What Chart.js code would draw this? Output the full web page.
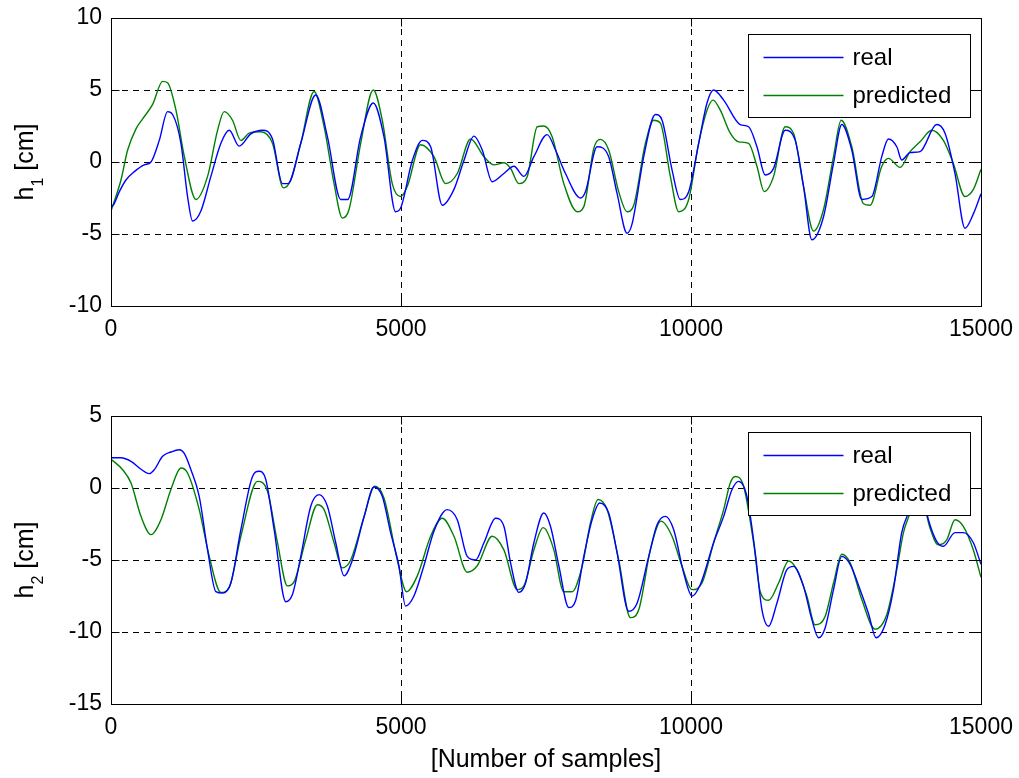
<!DOCTYPE html>
<html>
<head>
<meta charset="utf-8">
<script src="https://cdn.jsdelivr.net/npm/chart.js@4"></script>
<style>
  html, body { margin: 0; padding: 0; background: #fff; }
  #wrap { position: relative; width: 1019px; height: 778px; overflow: hidden; }
  canvas { position: absolute; left: 0; }
  #h1Chart { top: 0; }
  #h2Chart { top: 398px; }
</style>
</head>
<body>
<div id="wrap">
  <canvas id="h1Chart" width="1019" height="380"></canvas>
  <canvas id="h2Chart" width="1019" height="380"></canvas>
</div>
<script>
// level h1: measured and model output
const h1RealX = [0, 40, 144, 258, 402, 574, 689, 832, 976, 1062, 1206, 1320, 1406, 1550, 1722, 1895, 2038, 2210, 2411, 2612,
  2784, 2956, 3050, 3272, 3530, 3731, 3961, 4080, 4305, 4522, 4706, 4907, 4993, 5195, 5367, 5511, 5712, 5913, 6085, 6257,
  6401, 6573, 6774, 6947, 7119, 7291, 7520, 7664, 7836, 8094, 8180, 8381, 8581, 8726, 8898, 8984, 9185, 9386, 9501, 9673,
  9816, 9960, 10132, 10276, 10390, 10563, 10850, 10993, 11137, 11280, 11424, 11624, 11797, 11940, 12084, 12285, 12457, 12600, 12772, 12945,
  13117, 13289, 13404, 13548, 13633, 13777, 13949, 14236, 14380, 14552, 14724, 14868, 15000];
const h1RealY = [-3.1, -3.0, -2.06, -1.25, -0.67, -0.2, 0, 1.5, 3.5, 3.3, 1.3, -2.4, -4.1, -3.4, -1.0, 1.3, 2.2, 1.1, 1.95, 2.2,
  1.6, -1.5, -1.5, 1.3, 4.65, 1.76, -2.6, -2.6, 1.76, 4.1, 1.76, -3.45, -3.2, 0.1, 1.5, 1.06, -3.0, -1.9, 0.1, 1.8,
  0.83, -1.37, -0.8, -0.3, -1.0, 0.37, 1.9, 0.83, -0.8, -2.5, -2.06, 1.06, 0.37, -2.2, -4.95, -4.3, 0.37, 3.3, 2.9, -0.55,
  -2.6, -2.06, 1.3, 4.1, 5.0, 4.3, 2.6, 2.45, 1.06, -0.9, -0.44, 2.2, 1.5, -1.7, -5.4, -3.8, -0.1, 2.6, 0.83, -2.6,
  -2.4, 0.37, 1.6, 1.06, 0.14, 0.65, 0.72, 2.6, 2.0, -0.8, -4.6, -3.6, -2.2];

const h1PredX = [0, 172, 287, 431, 546, 718, 890, 976, 1120, 1263, 1464, 1665, 1837, 1952, 2095, 2239, 2382, 2583, 2784, 2973,
  3100, 3272, 3502, 3674, 3846, 3990, 4104, 4305, 4522, 4677, 4849, 4993, 5108, 5338, 5568, 5769, 5970, 6200, 6430, 6602,
  6774, 6889, 7033, 7177, 7349, 7462, 7606, 7807, 8037, 8152, 8324, 8438, 8581, 8754, 8898, 9013, 9214, 9357, 9472, 9644,
  9788, 9960, 10132, 10276, 10379, 10505, 10677, 10821, 10993, 11137, 11263, 11424, 11624, 11768, 11940, 12113, 12285, 12457, 12589, 12772,
  12973, 13088, 13289, 13404, 13605, 13777, 13949, 14150, 14351, 14523, 14724, 14868, 15000];
const h1PredY = [-3.4, -1.25, 0.83, 2.3, 3.0, 4.0, 5.6, 5.5, 3.6, 0.4, -2.6, -1.0, 2.2, 3.5, 2.9, 1.5, 2.0, 2.1, 1.3, -1.8,
  -1.25, 1.3, 4.9, 2.45, -1.5, -3.9, -3.3, 1.3, 5.0, 2.9, -1.5, -2.4, -1.7, 1.2, 0.37, -1.5, -0.8, 1.6, 0.37, -0.2,
  -0.05, -0.44, -1.5, -1.0, 2.45, 2.5, 1.76, -1.5, -3.45, -3.1, 0.95, 1.57, 0.83, -2.06, -3.45, -3.0, 1.3, 2.9, 2.7, -1.0,
  -3.45, -2.6, 1.3, 3.6, 4.3, 3.6, 2.0, 1.4, 1.3, -0.3, -2.06, -1.0, 2.45, 2.0, -1.7, -4.8, -3.3, 0.37, 2.9, 1.06,
  -2.9, -3.0, -0.3, 0.25, -0.37, 0.72, 1.4, 2.2, 1.5, -0.1, -2.4, -1.9, -0.5];

// level h2: measured and model output
const h2RealX = [0, 172, 345, 517, 660, 746, 890, 1033, 1177, 1263, 1378, 1521, 1665, 1808, 1923, 2066, 2239, 2440, 2554, 2669,
  2813, 3014, 3128, 3272, 3444, 3588, 3731, 3875, 4018, 4162, 4363, 4535, 4677, 4821, 4964, 5079, 5223, 5395, 5568, 5797,
  5970, 6142, 6286, 6430, 6631, 6774, 6889, 7033, 7148, 7291, 7462, 7577, 7721, 7893, 8008, 8152, 8295, 8427, 8581, 8726,
  8926, 9070, 9271, 9415, 9558, 9702, 9874, 10017, 10161, 10390, 10563, 10706, 10821, 10964, 11108, 11223, 11338, 11481, 11653, 11768,
  11940, 12084, 12199, 12314, 12457, 12600, 12744, 12916, 13059, 13191, 13346, 13490, 13633, 13748, 13900, 14000, 14093, 14236, 14351, 14552,
  14695, 14868, 15000];
const h2RealY = [2.1, 2.1, 1.85, 1.3, 1.0, 1.27, 2.2, 2.5, 2.66, 2.4, 1.27, -0.58, -4.3, -7.2, -7.3, -6.6, -2.9, 0.8, 1.16, 0.58,
  -2.9, -7.9, -7.4, -4.75, -1.27, -0.46, -1.27, -3.8, -6.1, -5.0, -2.0, 0.07, -0.58, -3.1, -5.4, -8.2, -7.5, -5.4, -3.0, -1.5,
  -2.2, -4.75, -5.0, -3.8, -2.1, -2.66, -5.2, -7.25, -6.6, -3.8, -1.74, -2.66, -5.4, -8.3, -7.85, -4.75, -2.2, -1.04, -1.74, -4.5,
  -8.56, -8.0, -4.75, -2.55, -1.97, -2.9, -5.9, -7.5, -6.7, -3.8, -1.97, -0.12, 0.46, -0.58, -4.5, -8.45, -9.6, -8.0, -5.67, -5.44,
  -6.83, -9.14, -10.4, -9.7, -7.06, -4.75, -5.3, -7.06, -8.7, -10.4, -9.5, -7.06, -3.1, -1.74, -0.3, -0.6, -2.2, -3.7, -4.05, -3.1,
  -3.1, -3.8, -5.3];

const h2PredX = [0, 201, 345, 517, 689, 861, 1033, 1206, 1320, 1521, 1694, 1895, 2038, 2239, 2526, 2698, 2870, 3042, 3157, 3358,
  3559, 3674, 3846, 3990, 4133, 4363, 4546, 4706, 4936, 5097, 5281, 5511, 5712, 5913, 6142, 6315, 6573, 6774, 7004, 7119,
  7291, 7450, 7500, 7635, 7807, 7950, 8123, 8266, 8398, 8553, 8754, 8955, 9099, 9300, 9483, 9673, 9845, 10017, 10190, 10390,
  10563, 10677, 10763, 10907, 11079, 11194, 11338, 11510, 11682, 11825, 11997, 12141, 12314, 12457, 12600, 12744, 12945, 13174, 13375, 13548,
  13663, 13777, 13900, 14000, 14121, 14265, 14409, 14552, 14695, 14868, 15000];
const h2PredY = [2.0, 1.27, 0.35, -1.97, -3.24, -2.2, -0.1, 1.39, 1.04, -1.5, -4.75, -7.25, -6.9, -3.35, 0.46, -0.23, -3.8, -6.8, -6.5, -3.6,
  -1.16, -1.5, -3.8, -5.55, -5.0, -2.0, 0.12, -0.7, -5.0, -7.2, -6.1, -3.35, -2.1, -3.35, -5.85, -5.4, -3.35, -4.3, -7.06, -6.8,
  -4.3, -2.75, -2.9, -4.3, -7.2, -7.2, -5.44, -2.43, -0.8, -1.5, -5.0, -9.0, -8.45, -4.3, -2.3, -3.35, -5.44, -7.06, -6.6, -3.8,
  -1.5, 0.35, 0.8, 0.12, -3.8, -7.2, -7.8, -6.6, -5.07, -5.67, -7.5, -9.5, -8.9, -6.6, -4.6, -5.2, -7.75, -9.8, -8.8, -5.67,
  -3.1, -1.74, -0.4, -0.9, -2.78, -3.94, -3.6, -2.2, -2.66, -4.3, -6.2];

const xTicks = [0, 5000, 10000, 15000];
const h1Ticks = [-10, -5, 0, 5, 10];
const h2Ticks = [-15, -10, -5, 0, 5];
const seriesNames = ['real', 'predicted'];

const FONT = '"Liberation Sans", Arial, sans-serif';
const TICK_LEN = 8;

function toPoints(xs, ys) {
  return xs.map((x, i) => ({x: x, y: ys[i]}));
}

// box, inward ticks, legend and axis titles in the usual matlab look
function axesDecor(sub, withXTitle) {
  return {
    id: 'axesDecor' + sub,
    afterDatasetsDraw(chart) {
      const ctx = chart.ctx;
      const a = chart.chartArea;
      const xs = chart.scales.x;
      const ys = chart.scales.y;
      const L = Math.round(a.left) + 0.5, R = Math.round(a.right) + 0.5;
      const T = Math.round(a.top) + 0.5, B = Math.round(a.bottom) + 0.5;

      ctx.save();
      ctx.strokeStyle = '#000';
      ctx.lineWidth = 1;
      ctx.setLineDash([]);
      ctx.beginPath();
      xs.ticks.forEach(t => {
        const p = Math.round(xs.getPixelForValue(t.value)) + 0.5;
        ctx.moveTo(p, B); ctx.lineTo(p, B - TICK_LEN);
        ctx.moveTo(p, T); ctx.lineTo(p, T + TICK_LEN);
      });
      ys.ticks.forEach(t => {
        const p = Math.round(ys.getPixelForValue(t.value)) + 0.5;
        ctx.moveTo(L, p); ctx.lineTo(L + TICK_LEN, p);
        ctx.moveTo(R, p); ctx.lineTo(R - TICK_LEN, p);
      });
      ctx.stroke();
      ctx.strokeRect(L, T, R - L, B - T);

      // legend
      const lx = L + 637, ly = T + 16, lw = 222, lh = 83;
      ctx.fillStyle = '#fff';
      ctx.fillRect(lx, ly, lw, lh);
      ctx.strokeRect(lx, ly, lw, lh);
      ctx.font = '24px ' + FONT;
      ctx.textBaseline = 'middle';
      ctx.textAlign = 'left';
      chart.data.datasets.forEach((ds, i) => {
        const yy = Math.round(ly + 22 + i * 38) + 0.5;
        ctx.strokeStyle = ds.borderColor;
        ctx.lineWidth = 1.4;
        ctx.beginPath();
        ctx.moveTo(lx + 15, yy); ctx.lineTo(lx + 95, yy);
        ctx.stroke();
        ctx.fillStyle = '#000';
        ctx.fillText(ds.label, lx + 104, yy + 1);
      });

      // y title: h with subscript
      ctx.fillStyle = '#000';
      ctx.textBaseline = 'alphabetic';
      ctx.translate(33, (a.top + a.bottom) / 2);
      ctx.rotate(-Math.PI / 2);
      const big = '25px ' + FONT, small = '16px ' + FONT;
      ctx.font = big;
      const wh = ctx.measureText('h').width;
      const wr = ctx.measureText(' [cm]').width;
      ctx.font = small;
      const ws = ctx.measureText(sub).width;
      let x0 = -(wh + ws + wr) / 2;
      ctx.font = big;
      ctx.fillText('h', x0, 0);
      ctx.font = small;
      ctx.fillText(sub, x0 + wh, 10);
      ctx.font = big;
      ctx.fillText(' [cm]', x0 + wh + ws, 0);
      ctx.restore();

      if (withXTitle) {
        ctx.save();
        ctx.fillStyle = '#000';
        ctx.font = '25px ' + FONT;
        ctx.textAlign = 'center';
        ctx.textBaseline = 'alphabetic';
        ctx.fillText('[Number of samples]', (a.left + a.right) / 2, a.bottom + 63);
        ctx.restore();
      }
    }
  };
}

function makeChart(id, realX, realY, predX, predY, yTicks, sub, withXTitle) {
  const ctx = document.getElementById(id);
  const gridX = {
    color: c => (c.tick && c.tick.value > 0 && c.tick.value < 15000) ? '#000' : 'rgba(0,0,0,0)',
    lineWidth: 1,
    drawTicks: false
  };
  const gridY = {
    color: c => (c.tick && c.tick.value > yTicks[0] && c.tick.value < yTicks[yTicks.length - 1]) ? '#000' : 'rgba(0,0,0,0)',
    lineWidth: 1,
    drawTicks: false
  };
  return new Chart(ctx, {
    type: 'line',
    data: {
      datasets: [
        {label: seriesNames[0], data: toPoints(realX, realY), borderColor: '#0000ff', borderWidth: 1.4,
          pointRadius: 0, cubicInterpolationMode: 'monotone', fill: false},
        {label: seriesNames[1], data: toPoints(predX, predY), borderColor: '#008000', borderWidth: 1.4,
          pointRadius: 0, cubicInterpolationMode: 'monotone', fill: false}
      ]
    },
    options: {
      responsive: false,
      animation: false,
      devicePixelRatio: 1,
      layout: {padding: {top: 18, right: 38, left: 0, bottom: 0}},
      plugins: {legend: {display: false}, tooltip: {enabled: false}},
      scales: {
        x: {
          type: 'linear', min: 0, max: 15000,
          afterBuildTicks: s => { s.ticks = xTicks.map(v => ({value: v})); },
          ticks: {color: '#000', font: {family: FONT, size: 23}, padding: 10, maxRotation: 0, autoSkip: false,
            callback: v => String(v)},
          grid: gridX,
          border: {display: false, dash: [6, 5]},
          afterFit: s => { s.height = 74; s.paddingLeft = 0; s.paddingRight = 0; }
        },
        y: {
          type: 'linear', min: yTicks[0], max: yTicks[yTicks.length - 1],
          afterBuildTicks: s => { s.ticks = yTicks.map(v => ({value: v})); },
          ticks: {color: '#000', font: {family: FONT, size: 23}, padding: 9},
          grid: gridY,
          border: {display: false, dash: [6, 5]},
          afterFit: s => { s.width = 111; s.paddingTop = 0; s.paddingBottom = 0; }
        }
      }
    },
    plugins: [axesDecor(sub, withXTitle)]
  });
}

makeChart('h1Chart', h1RealX, h1RealY, h1PredX, h1PredY, h1Ticks, '1', false);
makeChart('h2Chart', h2RealX, h2RealY, h2PredX, h2PredY, h2Ticks, '2', true);
</script>
</body>
</html>
